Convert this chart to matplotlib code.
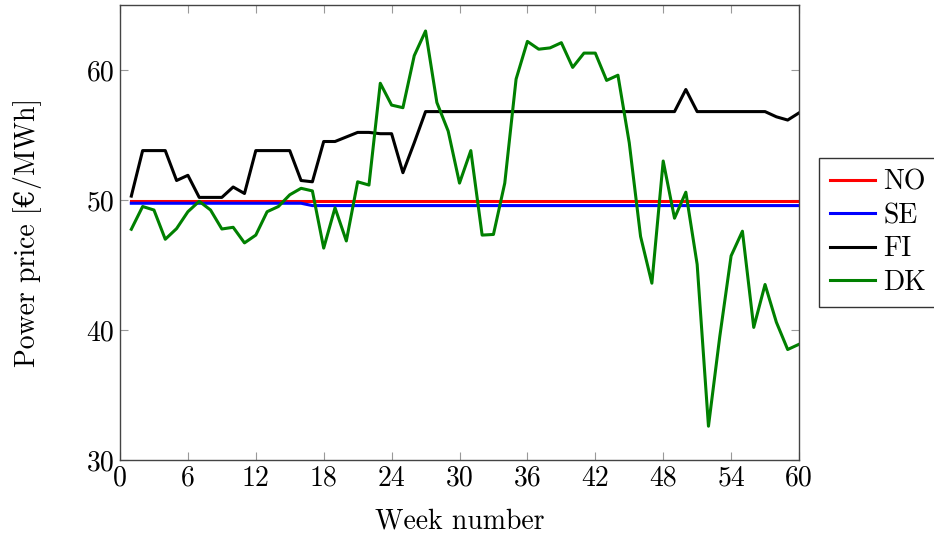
import numpy as np
import matplotlib.pyplot as plt

# ---------------------------------------------------------------- data

weeks = np.arange(1, 61)

price_no = [49.9] * 60
price_se = [49.75] * 16 + [49.57] * 44
price_fi = [
    50.3, 53.8, 53.8, 53.8, 51.5, 51.9, 50.2, 50.2, 50.2, 51.0,
    50.5, 53.8, 53.8, 53.8, 53.8, 51.5, 51.4, 54.5, 54.5, 54.85,
    55.2, 55.2, 55.1, 55.1, 52.1, 54.4, 56.8, 56.8, 56.8, 56.8,
    56.8, 56.8, 56.8, 56.8, 56.8, 56.8, 56.8, 56.8, 56.8, 56.8,
    56.8, 56.8, 56.8, 56.8, 56.8, 56.8, 56.8, 56.8, 56.8, 58.5,
    56.8, 56.8, 56.8, 56.8, 56.8, 56.8, 56.8, 56.4, 56.15, 56.7,
]
price_dk = [
    47.75, 49.5, 49.23, 46.98, 47.8, 49.1, 49.9, 49.23, 47.77, 47.9,
    46.7, 47.3, 49.1, 49.5, 50.4, 50.9, 50.7, 46.3, 49.4, 46.85,
    51.4, 51.15, 58.98, 57.3, 57.1, 61.1, 63.0, 57.5, 55.3, 51.3,
    53.8, 47.3, 47.35, 51.3, 59.3, 62.2, 61.6, 61.7, 62.1, 60.2,
    61.3, 61.3, 59.2, 59.6, 54.4, 47.2, 43.6, 53.0, 48.6, 50.6,
    45.05, 32.6, 39.5, 45.7, 47.6, 40.2, 43.5, 40.6, 38.5, 38.9,
]

series = [("NO", price_no, "red"), ("SE", price_se, "blue"),
          ("FI", price_fi, "black"), ("DK", price_dk, "green")]

xticks = list(range(0, 61, 6))
yticks = [30, 40, 50, 60]

# ---------------------------------------------------------------- style

plt.rcParams["font.family"] = ["cmr10", "DejaVu Serif"]
plt.rcParams["mathtext.fontset"] = "cm"
plt.rcParams["axes.unicode_minus"] = False
FS = 20

fig = plt.figure(figsize=(9.34, 5.38), dpi=100)
ax = fig.add_axes([120 / 934, 1 - 460 / 538, 679 / 934, 455 / 538])

for label, vals, color in series:
    ax.plot(weeks, vals, color=color, linewidth=2.2, label=label)

ax.set_xlim(0, 60)
ax.set_ylim(30, 65)
ax.set_xticks(xticks)
ax.set_yticks(yticks)
ax.tick_params(direction="in", length=6, width=0.8, color="#999999",
               top=True, right=True, labelsize=FS, pad=4)
for s in ax.spines.values():
    s.set_color("#444444")
    s.set_linewidth(1.0)

ax.set_xlabel("Week number", fontsize=FS, labelpad=12)
ax.set_ylabel("Power price [€/MWh]", fontsize=FS, labelpad=32)

leg = ax.legend(loc="center left", bbox_to_anchor=(1.03, 0.5),
                frameon=True, fancybox=False, edgecolor="black",
                handlelength=1.6, handletextpad=0.3, borderpad=0.4,
                labelspacing=0.25, fontsize=FS, borderaxespad=0)
leg.get_frame().set_linewidth(1.0)

fig.savefig("out.png", dpi=100)
